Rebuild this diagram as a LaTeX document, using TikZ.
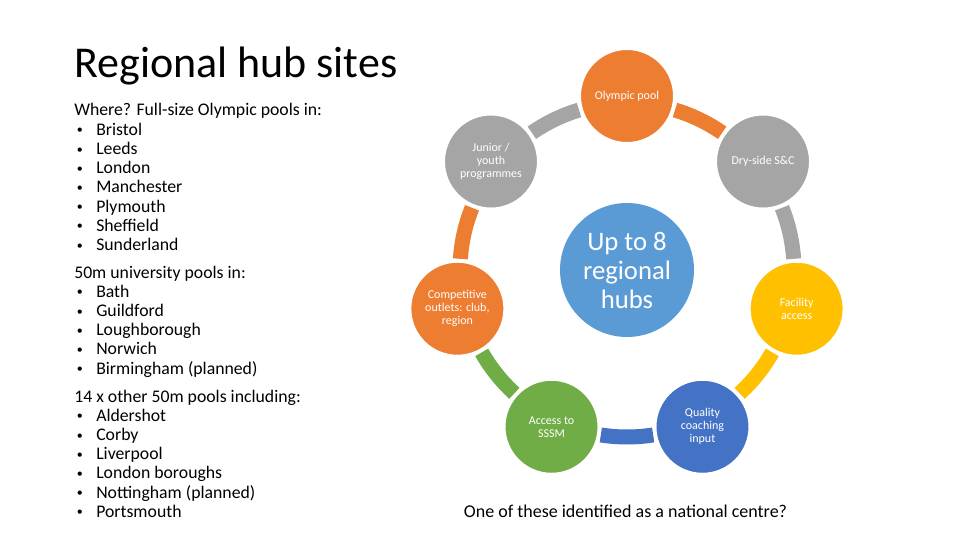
\documentclass[tikz,border=0pt]{standalone}
\usepackage{fontspec}
\setmainfont{Carlito}
\usepackage{tikz}
\usetikzlibrary{calc}
\definecolor{hubOrange}{HTML}{ED7D31}
\definecolor{hubGrey}{HTML}{A5A5A5}
\definecolor{hubYellow}{HTML}{FFC000}
\definecolor{hubBlue}{HTML}{4472C4}
\definecolor{hubGreen}{HTML}{70AD47}
\definecolor{hubSky}{HTML}{5B9BD5}

\tikzset{
    ringnode/.style={circle, fill=#1, draw=white, line width=1.5pt, minimum size=70.5pt,
        inner sep=0pt, text=white, align=center, font=\fontsize{9}{9.75}\selectfont},
    ringband/.style={line width=11.25pt},
    listline/.style={anchor=base west, inner sep=0pt, font=\fontsize{13.3}{14.4}\selectfont},
}
\newcommand{\sitebullet}{\llap{\raisebox{1pt}{\fontsize{9}{9}\selectfont\textbullet}\hspace{10pt}}}

\begin{document}
\begin{tikzpicture}[x=0.75pt, y=0.75pt]
    \useasboundingbox (0,0) rectangle (960,540);

    % Title
    \node[anchor=base west, inner sep=0pt, font=\fontsize{33}{40}\selectfont] (title) at (74,462) {Regional hub sites};

    % Left-hand lists of pools
    \node[listline] (olympichead) at (74,424) {Where? Full-size Olympic pools in:};
    \foreach \site [count=\i] in {Bristol, Leeds, London, Manchester, Plymouth, Sheffield, Sunderland}
        \node[listline] (olympic-\i) at (96,{424-19.2*\i}) {\sitebullet\site};

    \node[listline] (unihead) at (74,262) {50m university pools in:};
    \foreach \site [count=\i] in {Bath, Guildford, Loughborough, Norwich, Birmingham (planned)}
        \node[listline] (uni-\i) at (96,{262-19.2*\i}) {\sitebullet\site};

    \node[listline] (otherhead) at (74,138) {14 x other 50m pools including:};
    \foreach \site [count=\i] in {Aldershot, Corby, Liverpool, London boroughs, Nottingham (planned), Portsmouth}
        \node[listline] (other-\i) at (96,{138-19.2*\i}) {\sitebullet\site};

    % Centre hub
    \node[circle, fill=hubSky, minimum size=100.5pt, inner sep=0pt, text=white, align=center,
        font=\fontsize{20}{21.75}\selectfont] (hub) at (627,270) {Up to 8\\regional\\hubs};

    % Ring bands, each in the colour of the node it leaves
    \foreach \a/\c in {90/hubOrange, 38.57/hubGrey, -12.86/hubYellow, -64.29/hubBlue,
                       -115.71/hubGreen, -167.14/hubOrange, -218.57/hubGrey}
    {
        \pgfmathsetmacro{\s}{\a-16.7}
        \pgfmathsetmacro{\e}{\a-34.73}
        \draw[ringband, \c] ($(hub)+(\s:167)$) arc[start angle=\s, end angle=\e, radius=167];
    }

    % Ring of hub elements
    \node[ringnode=hubOrange] (olympic) at ($(hub)+(90:174)$) {Olympic pool};
    \node[ringnode=hubGrey] (dryside) at ($(hub)+(38.57:174)$) {Dry-side S\&C};
    \node[ringnode=hubYellow] (facility) at ($(hub)+(-12.86:174)$) {Facility\\access};
    \node[ringnode=hubBlue] (coaching) at ($(hub)+(-64.29:174)$) {Quality\\coaching\\input};
    \node[ringnode=hubGreen] (sssm) at ($(hub)+(-115.71:174)$) {Access to\\SSSM};
    \node[ringnode=hubOrange] (outlets) at ($(hub)+(-167.14:174)$) {Competitive\\outlets: club,\\region};
    \node[ringnode=hubGrey] (junior) at ($(hub)+(141.43:174)$) {Junior /\\youth\\programmes};

    % Footnote
    \node[anchor=base, inner sep=0pt, font=\fontsize{13.5}{16}\selectfont] (national) at (625.5,23)
        {One of these identified as a national centre?};
\end{tikzpicture}
\end{document}
